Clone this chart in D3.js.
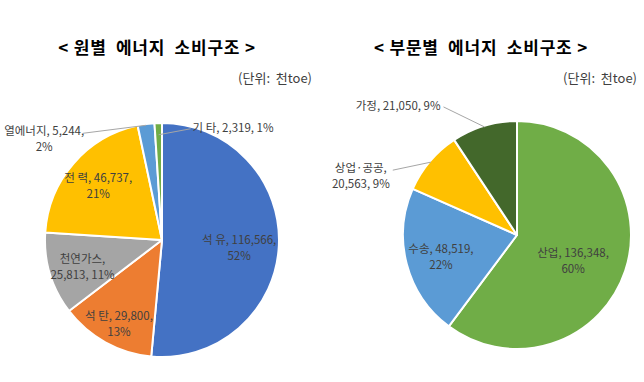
<!DOCTYPE html>
<html>
<head>
<meta charset="utf-8">
<script src="https://cdn.jsdelivr.net/npm/d3@7"></script>
<style>
  body { margin: 0; background: #fff; }
  svg { font-family: "Noto Sans CJK KR", "Noto Sans", sans-serif; }
</style>
</head>
<body>
<div id="chart"></div>
<script>
// 원별 에너지 소비구조 (천toe)
const sourceNames = ["석 유", "석 탄", "천연가스", "전 력", "열에너지", "기 타"];
const sourceValues = [116566, 29800, 25813, 46737, 5244, 2319];
const sourcePercents = ["52%", "13%", "11%", "21%", "2%", "1%"];
const sourceColors = ["#4472C4", "#ED7D31", "#A5A5A5", "#FFC000", "#5B9BD5", "#70AD47"];

// 부문별 에너지 소비구조 (천toe)
const sectorNames = ["산업", "수송", "상업·공공", "가정"];
const sectorValues = [136348, 48519, 20563, 21050];
const sectorPercents = ["60%", "22%", "9%", "9%"];
const sectorColors = ["#70AD47", "#5B9BD5", "#FFC000", "#43682B"];

const titles = ["< 원별  에너지  소비구조 >", "< 부문별  에너지  소비구조 >"];
const unitLabel = "(단위:  천toe)";

const width = 644, height = 382;
const fmt = d3.format(",");

const svg = d3.select("#chart").append("svg")
    .attr("width", width)
    .attr("height", height);

// label layout: inside labels sit on a radius ratio (+ small nudge),
// outside labels get a leader line from the rim
const twoLines = d => [d.name + ", " + fmt(d.value) + ",", d.pct];
const nameFirst = d => [d.name + ",", fmt(d.value) + ", " + d.pct];
const oneLine = d => [d.name + ", " + fmt(d.value) + ", " + d.pct];

const sourceLayout = [
    { mode: "in", r: 0.66, dy: 4, lines: twoLines },
    { mode: "in", r: 0.76, dy: 6, lines: twoLines },
    { mode: "in", r: 0.71, dy: 3, lines: nameFirst },
    { mode: "in", r: 0.72, dy: 1, lines: twoLines },
    { mode: "out", end: [-63, 8], anchor: "middle", tx: -102, ty: 14, lines: twoLines },
    { mode: "out", end: [32, -6], anchor: "start", tx: 34, ty: -7, lineR: 0.9, lines: oneLine }
];

const sectorLayout = [
    { mode: "in", r: 0.5, dx: 2, dy: 8, lines: twoLines },
    { mode: "in", r: 0.69, dy: 2, lines: twoLines },
    { mode: "out", end: [-38, 8], anchor: "middle", tx: -70, ty: 14, lines: nameFirst },
    { mode: "out", end: [-41, -20], anchor: "end", tx: -44, ty: -21, lines: oneLine }
];

function drawPie(cx, cy, radius, names, values, pcts, colors, layout, titleX, titleText, unitX) {
    const g = svg.append("g").attr("transform", `translate(${cx},${cy})`);

    const data = names.map((n, i) => ({ name: n, value: values[i], pct: pcts[i], color: colors[i], lay: layout[i] }));

    const pie = d3.pie().sort(null).value(d => d.value);
    const arc = d3.arc().innerRadius(0).outerRadius(radius);
    const arcs = pie(data);

    g.selectAll("path.slice")
        .data(arcs)
        .enter().append("path")
        .attr("class", "slice")
        .attr("d", arc)
        .style("fill", d => d.data.color)
        .style("stroke", "#fff")
        .style("stroke-width", 2)
        .style("stroke-linejoin", "round");

    arcs.forEach(a => {
        const lay = a.data.lay;
        const mid = (a.startAngle + a.endAngle) / 2;
        const lines = lay.lines(a.data);
        let tx, ty, anchor = "middle";
        if (lay.mode === "in") {
            tx = Math.sin(mid) * radius * lay.r + (lay.dx || 0);
            ty = -Math.cos(mid) * radius * lay.r + (lay.dy || 0);
        } else {
            const lr = radius * (lay.lineR || 0.99);
            const sx = Math.sin(mid) * lr, sy = -Math.cos(mid) * lr;
            g.append("line")
                .attr("x1", sx).attr("y1", sy)
                .attr("x2", sx + lay.end[0]).attr("y2", sy + lay.end[1])
                .style("stroke", "#A6A6A6")
                .style("stroke-width", 1);
            tx = sx + lay.tx;
            ty = sy + lay.ty;
            anchor = lay.anchor;
        }
        const t = g.append("text")
            .attr("text-anchor", anchor)
            .style("font-size", "11.5px")
            .style("fill", "#404040");
        const y0 = ty - (lines.length - 1) * 8 + 4;
        lines.forEach((l, k) => {
            t.append("tspan").attr("x", tx).attr("y", y0 + k * 16).text(l);
        });
    });

    svg.append("text")
        .attr("x", titleX)
        .attr("y", 54)
        .attr("text-anchor", "middle")
        .style("font-size", "17px")
        .style("font-weight", "bold")
        .style("letter-spacing", "0.8px")
        .style("fill", "#000")
        .style("white-space", "pre")
        .text(titleText);

    svg.append("text")
        .attr("x", unitX)
        .attr("y", 83)
        .attr("text-anchor", "end")
        .style("font-size", "13px")
        .style("fill", "#404040")
        .style("white-space", "pre")
        .text(unitLabel);
}

drawPie(162, 240, 117, sourceNames, sourceValues, sourcePercents, sourceColors, sourceLayout, 157, titles[0], 312);
drawPie(517, 235, 114, sectorNames, sectorValues, sectorPercents, sectorColors, sectorLayout, 481, titles[1], 637);
</script>
</body>
</html>
